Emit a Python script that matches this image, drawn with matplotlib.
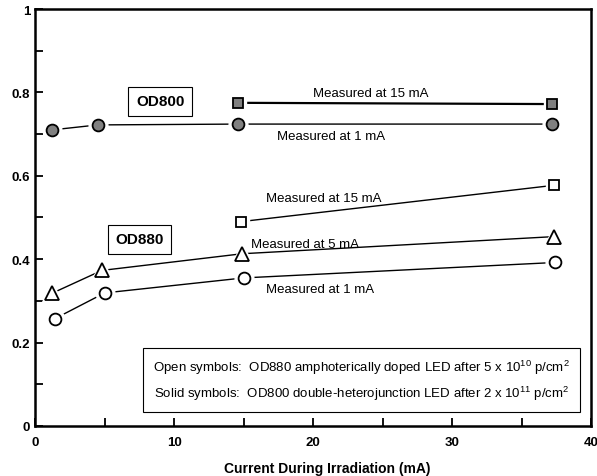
import matplotlib.pyplot as plt
from matplotlib.ticker import MultipleLocator, FormatStrFormatter

plt.rcParams['font.family'] = ['Liberation Sans', 'DejaVu Sans']
plt.rcParams['mathtext.fontset'] = 'custom'
plt.rcParams['mathtext.rm'] = 'Liberation Sans'

# OD800 double-heterojunction LED (solid symbols)
od800_1ma_x = [1.2, 4.5, 14.6, 37.2]
od800_1ma_y = [0.710, 0.722, 0.724, 0.724]
od800_15ma_x = [14.6, 37.2]
od800_15ma_y = [0.775, 0.772]

# OD880 amphoterically doped LED (open symbols)
od880_15ma_x = [14.8, 37.3]
od880_15ma_y = [0.490, 0.577]
od880_5ma_x = [1.2, 4.8, 14.9, 37.3]
od880_5ma_y = [0.318, 0.373, 0.413, 0.454]
od880_1ma_x = [1.4, 5.0, 15.0, 37.4]
od880_1ma_y = [0.257, 0.319, 0.355, 0.392]

GRAY = '#808080'


def series(ax, x, y, marker, face, size, lw=1.0):
    ax.plot(x, y, '-', color='black', lw=lw, zorder=2)
    # white halo leaves a small gap between line and symbol
    ax.plot(x, y, marker, ms=size + 5, mfc='white', mec='white', ls='none', zorder=3)
    ax.plot(x, y, marker, ms=size, mfc=face, mec='black', mew=1.3, ls='none', zorder=4)


fig = plt.figure(figsize=(5.97, 4.77), dpi=100)
ax = fig.add_axes([0.059, 0.105, 0.931, 0.874])

series(ax, od800_1ma_x, od800_1ma_y, 'o', GRAY, 8.5)
series(ax, od800_15ma_x, od800_15ma_y, 's', GRAY, 7, lw=1.6)
series(ax, od880_15ma_x, od880_15ma_y, 's', 'white', 7)
series(ax, od880_5ma_x, od880_5ma_y, '^', 'white', 10.5)
series(ax, od880_1ma_x, od880_1ma_y, 'o', 'white', 8.5)

ax.set_xlim(0, 40)
ax.set_ylim(0, 1)
ax.xaxis.set_major_locator(MultipleLocator(10))
ax.xaxis.set_minor_locator(MultipleLocator(5))
ax.yaxis.set_major_locator(MultipleLocator(0.2))
ax.yaxis.set_minor_locator(MultipleLocator(0.1))
ax.yaxis.set_major_formatter(FormatStrFormatter('%g'))
ax.tick_params(which='both', direction='in', length=6, width=1.3,
               top=False, right=False, labelsize=9.5)
ax.tick_params(axis='x', pad=7)
for lab in ax.get_xticklabels() + ax.get_yticklabels():
    lab.set_fontweight('bold')
for s in ax.spines.values():
    s.set_linewidth(1.8)

ax.set_xlabel('Current During Irradiation (mA)', fontsize=10, fontweight='bold')
ax.xaxis.set_label_coords(0.526, -0.083)

box = dict(boxstyle='square,pad=0.5', fc='white', ec='black', lw=0.8)
ax.text(9.0, 0.779, 'OD800', fontsize=11, fontweight='bold', ha='center', va='center', bbox=box)
ax.text(7.5, 0.448, 'OD880', fontsize=11, fontweight='bold', ha='center', va='center', bbox=box)

note = dict(fontsize=9.5, ha='left', va='center')
ax.text(20.0, 0.799, 'Measured at 15 mA', **note)
ax.text(17.4, 0.695, 'Measured at 1 mA', **note)
ax.text(16.6, 0.547, 'Measured at 15 mA', **note)
ax.text(15.5, 0.436, 'Measured at 5 mA', **note)
ax.text(16.6, 0.329, 'Measured at 1 mA', **note)

ax.text(23.5, 0.11,
        'Open symbols:  OD880 amphoterically doped LED after 5 x 10$^{10}$ p/cm$^{2}$\n'
        'Solid symbols:  OD800 double-heterojunction LED after 2 x 10$^{11}$ p/cm$^{2}$',
        fontsize=9.5, ha='center', va='center', linespacing=1.6,
        bbox=dict(boxstyle='square,pad=0.75', fc='white', ec='black', lw=0.8))

fig.savefig('out.png', dpi=100)
